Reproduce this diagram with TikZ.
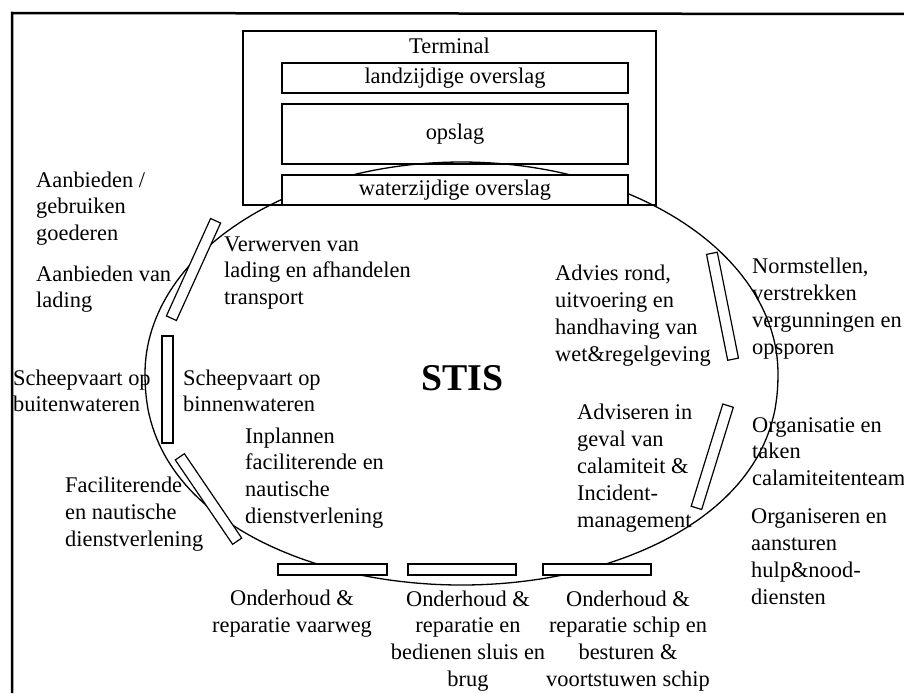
\documentclass[tikz,border=0pt]{standalone}
\usepackage{fontspec}
\setmainfont{Liberation Serif}
\begin{document}
\begin{tikzpicture}[x=1pt,y=-1pt,
  txt/.style={font=\fontsize{22.4}{26.8}\selectfont, inner sep=0pt},
  % multi-line labels are placed by the baseline of their last line
  lbl/.style={txt, align=left, anchor=base west},
  clbl/.style={txt, align=center, anchor=base},
  box/.style={draw, line width=1.2pt, fill=white, inner sep=0pt, txt},
  bar/.style={draw, line width=1.2pt, fill=white, rectangle, inner sep=0pt,
              minimum width=107pt, minimum height=11pt},
]
\useasboundingbox (0,0) rectangle (904,693);

% outer frame (open to the right and bottom)
\draw[line width=2.5pt] (12,693) -- (12,13) -- (904,14);

% terminal block
\node[draw, line width=1.2pt, minimum width=413pt, minimum height=174pt, inner sep=0pt]
  (terminal) at (449.5,118) {};
\node[txt, anchor=base] (termtitle) at (449.5,54) {Terminal};
\node[box, minimum width=346pt, minimum height=30pt] (land) at (455,78) {landzijdige overslag};
\node[box, minimum width=346pt, minimum height=60pt] (opslag) at (455,134) {opslag};

% the STIS ring
\draw[line width=1.3pt]
  plot[domain=0.5:179.5, samples=120] ({461.5+316.5*cos(\x)}, {373.5+211.5*pow(sin(\x),0.9)})
  -- plot[domain=180:360, samples=120] ({461.5+316.5*cos(\x)}, {373.5+211.5*sin(\x)})
  -- cycle;

\node[box, minimum width=346pt, minimum height=30pt] (water) at (455,190) {waterzijdige overslag};

% interfaces on the ring
\node[bar, rotate=65.6]  (barA) at (193.5,269.5) {};
\node[bar, rotate=90]    (barB) at (167.5,389.5) {};
\node[bar, rotate=124.2, minimum width=102pt] (barC) at (208.5,499) {};
\node[bar, minimum width=109pt] (barD) at (332.5,569.5) {};
\node[bar, minimum width=108pt] (barE) at (462,569.5) {};
\node[bar, minimum width=108pt] (barF) at (597,569.5) {};
\node[bar, rotate=72.8]  (barG) at (712.25,456.75) {};
\node[bar, rotate=101.3, minimum width=108pt] (barH) at (722.5,306.25) {};

% centre label
\node[font=\bfseries\fontsize{37.8}{40}\selectfont, inner sep=0pt, anchor=base] (stis) at (462.5,390) {STIS};

% activities outside and inside the ring
\node[lbl] (goederen) at (36,240.6) {Aanbieden /\\gebruiken\\goederen};
\node[lbl] (aanbod) at (36,307.8) {Aanbieden van\\lading};
\node[lbl] (verwerven) at (224,304.6) {Verwerven van\\lading en afhandelen\\transport};
\node[lbl] (buiten) at (13,411.8) {Scheepvaart op\\buitenwateren};
\node[lbl] (binnen) at (183,411.8) {Scheepvaart op\\binnenwateren};
\node[lbl] (inplannen) at (245,523.4) {Inplannen\\faciliterende en\\nautische\\dienstverlening};
\node[lbl] (facil) at (65,546) {Faciliterende\\en nautische\\dienstverlening};
\node[lbl] (advies) at (555,361) {Advies rond,\\uitvoering en\\handhaving van\\wet\&regelgeving};
\node[lbl] (norm) at (752,354) {Normstellen,\\verstrekken\\vergunningen en\\opsporen};
\node[lbl] (adviseren) at (577,527) {Adviseren in\\geval van\\calamiteit \&\\Incident-\\management};
\node[lbl] (organisatie) at (752,485.6) {Organisatie en\\taken\\calamiteitenteam};
\node[lbl] (hulp) at (751,604) {Organiseren en\\aansturen\\hulp\&nood-\\diensten};
\node[clbl] (vaarweg) at (292,632.5) {Onderhoud \&\\reparatie vaarweg};
\node[clbl] (sluis) at (468,686.5) {Onderhoud \&\\reparatie en\\bedienen sluis en\\brug};
\node[clbl] (schip) at (628,686.5) {Onderhoud \&\\reparatie schip en\\besturen \&\\voortstuwen schip};
\end{tikzpicture}
\end{document}
